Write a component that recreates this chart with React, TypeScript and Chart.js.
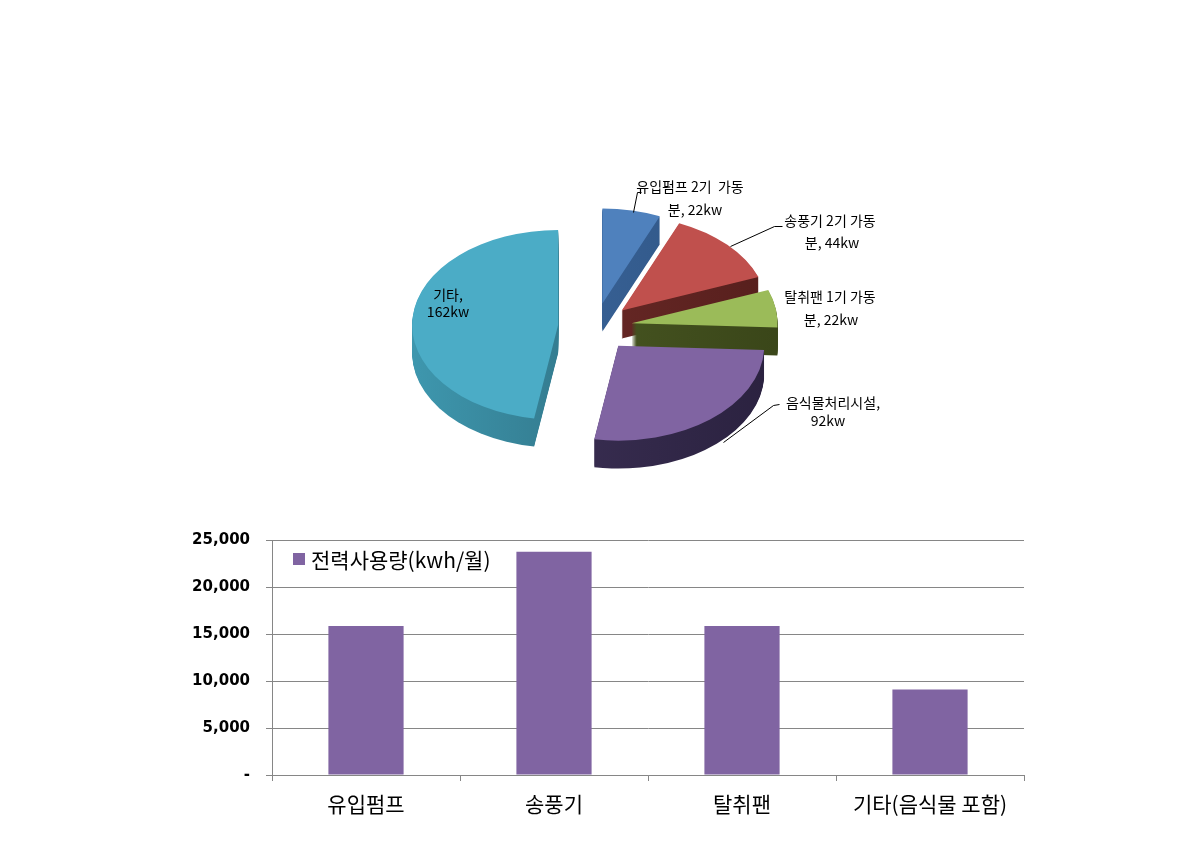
import React, { useEffect, useRef } from 'react';
import { Chart, registerables } from 'chart.js';

Chart.register(...registerables);

// ---------- data ----------
const pieCategories = ['유입펌프 2기 가동분', '송풍기 2기 가동분', '탈취팬 1기 가동분', '음식물처리시설', '기타'];
const pieValues = [22, 44, 22, 92, 162];
const pieLabelPrefixes = ['유입펌프 2기  가동', '송풍기 2기 가동', '탈취팬 1기 가동', '음식물처리시설,', '기타,'];

const barCategories = ['유입펌프', '송풍기', '탈취팬', '기타(음식물 포함)'];
const barValues = [15840, 23760, 15840, 9100];
const barSeriesName = '전력사용량(kwh/월)';
const yTicks = [0, 5000, 10000, 15000, 20000, 25000];

// ---------- styles ----------
const TOP_COLORS = ['#4f81bd', '#c0504d', '#9bbb59', '#8064a2', '#4bacc6'];
const SIDE_COLORS = [
  ['#3d6aa0', '#2f5484'],
  ['#702d2a', '#571f1d'],
  ['#4d5c25', '#3a4619'],
  ['#3e3258', '#2b2240'],
  ['#3e97ae', '#2a6374'],
];
const SQUASH = 0.65;
const DEPTH = 28;
const EXPLODE = 37;
const FONT_KR = '"Noto Sans CJK KR", "Noto Sans", sans-serif';

// label layout relative to pie centre: [line1 pos, line2 pos, leader polyline]
const LABEL_LAYOUT: { l1: [number, number]; l2: [number, number]; line?: [number, number][] }[] = [
  { l1: [95, -140], l2: [100, -117], line: [[46, -135], [42, -135], [38, -115]] },
  { l1: [235, -106], l2: [237, -84], line: [[187, -101], [179, -101], [135, -81]] },
  { l1: [235, -30], l2: [236, -7] },
  { l1: [238, 76], l2: [233, 94], line: [[184, 77], [178, 78], [128, 115]] },
  { l1: [-147, -32], l2: [-147, -15] },
];

const pie3dPlugin = {
  id: 'pie3d',
  beforeDatasetsDraw(chart: any) {
    const ctx: CanvasRenderingContext2D = chart.ctx;
    const arcs = chart.getDatasetMeta(0).data as any[];
    if (!arcs.length) return;
    const cx = arcs[0].x;
    const cy = arcs[0].y;
    const mid = (a: any) => (a.startAngle + a.endAngle) / 2;
    const order = arcs.map((_, i) => i).sort((i, j) => Math.sin(mid(arcs[i])) - Math.sin(mid(arcs[j])));
    const squash = () => {
      ctx.translate(cx, cy);
      ctx.scale(1, SQUASH);
      ctx.translate(-cx, -cy);
    };
    for (const i of order) {
      const a = arcs[i];
      const m = mid(a);
      const dx = Math.cos(m) * EXPLODE;
      const dy = Math.sin(m) * EXPLODE;
      const ax = a.x + dx;
      const ay = a.y + dy;
      const [c1, c2] = SIDE_COLORS[i % SIDE_COLORS.length];
      const grad = ctx.createLinearGradient(ax - a.outerRadius, 0, ax + a.outerRadius, 0);
      grad.addColorStop(0, c1);
      grad.addColorStop(1, c2);
      for (let d = DEPTH; d >= 1; d--) {
        ctx.save();
        ctx.translate(0, d);
        squash();
        ctx.beginPath();
        ctx.moveTo(ax, ay);
        ctx.arc(ax, ay, a.outerRadius, a.startAngle, a.endAngle);
        ctx.closePath();
        ctx.fillStyle = grad;
        ctx.fill();
        ctx.restore();
      }
      ctx.save();
      squash();
      ctx.translate(dx, dy);
      a.draw(ctx);
      ctx.restore();
    }
    return false;
  },
};

const pieLabelPlugin = {
  id: 'pieLabels',
  afterDraw(chart: any) {
    const ctx: CanvasRenderingContext2D = chart.ctx;
    const arcs = chart.getDatasetMeta(0).data as any[];
    if (!arcs.length) return;
    const cx = arcs[0].x;
    const cy = arcs[0].y;
    ctx.save();
    ctx.font = `14px ${FONT_KR}`;
    ctx.fillStyle = '#000';
    ctx.textAlign = 'center';
    ctx.textBaseline = 'middle';
    ctx.strokeStyle = '#000';
    ctx.lineWidth = 1;
    pieValues.forEach((v, i) => {
      const lay = LABEL_LAYOUT[i];
      const line2 = i < 3 ? `분, ${v}kw` : `${v}kw`;
      ctx.fillText(pieLabelPrefixes[i], cx + lay.l1[0], cy + lay.l1[1]);
      ctx.fillText(line2, cx + lay.l2[0], cy + lay.l2[1]);
      if (lay.line) {
        ctx.beginPath();
        lay.line.forEach(([px, py], k) => {
          if (k === 0) ctx.moveTo(cx + px + 0.5, cy + py + 0.5);
          else ctx.lineTo(cx + px + 0.5, cy + py + 0.5);
        });
        ctx.stroke();
      }
    });
    ctx.restore();
  },
};

const barLegendPlugin = {
  id: 'innerLegend',
  afterDraw(chart: any) {
    const ctx: CanvasRenderingContext2D = chart.ctx;
    const area = chart.chartArea;
    const ds = chart.data.datasets[0];
    ctx.save();
    ctx.fillStyle = ds.backgroundColor as string;
    ctx.fillRect(area.left + 21, area.top + 13, 12, 12);
    ctx.fillStyle = '#000';
    ctx.font = `21px ${FONT_KR}`;
    ctx.textBaseline = 'middle';
    ctx.textAlign = 'left';
    ctx.fillText(ds.label, area.left + 39, area.top + 20);
    ctx.restore();
  },
};

export default function App() {
  const pieRef = useRef<HTMLCanvasElement>(null);
  const barRef = useRef<HTMLCanvasElement>(null);

  useEffect(() => {
    const pie = new Chart(pieRef.current as HTMLCanvasElement, {
      type: 'pie',
      data: {
        labels: pieCategories,
        datasets: [
          {
            data: pieValues,
            backgroundColor: TOP_COLORS,
            borderWidth: 0,
            clip: false as any,
          } as any,
        ],
      },
      options: {
        responsive: false,
        animation: false,
        events: [],
        radius: 146,
        layout: { padding: 0 },
        plugins: { legend: { display: false }, tooltip: { enabled: false } },
      } as any,
      plugins: [pie3dPlugin, pieLabelPlugin],
    });

    const bar = new Chart(barRef.current as HTMLCanvasElement, {
      type: 'bar',
      data: {
        labels: barCategories,
        datasets: [
          {
            label: barSeriesName,
            data: barValues,
            backgroundColor: '#8064a2',
            borderWidth: 0,
            barPercentage: 0.4,
            categoryPercentage: 1.0,
          },
        ],
      },
      options: {
        responsive: false,
        animation: false,
        events: [],
        layout: { padding: { top: 6, right: 16, left: 0, bottom: 0 } },
        plugins: { legend: { display: false }, tooltip: { enabled: false } },
        scales: {
          x: {
            grid: { drawOnChartArea: false, drawTicks: true, tickLength: 6, color: '#868686', offset: true },
            border: { color: '#868686' },
            ticks: { font: { family: FONT_KR, size: 21 }, color: '#000', padding: 10, maxRotation: 0 },
            afterFit: (s: any) => {
              s.height = 60;
            },
          },
          y: {
            min: 0,
            max: 25000,
            afterBuildTicks: (s: any) => {
              s.ticks = yTicks.map((v) => ({ value: v }));
            },
            ticks: {
              callback: (v: any) => (Number(v) === 0 ? '-' : Number(v).toLocaleString('en-US')),
              font: { family: '"DejaVu Sans", sans-serif', size: 15, weight: 'bold' },
              color: '#000',
              padding: 16,
            },
            grid: { color: '#868686', tickLength: 6 },
            border: { color: '#868686' },
            afterFit: (s: any) => {
              s.width = 102;
            },
          },
        },
      } as any,
      plugins: [barLegendPlugin],
    });

    return () => {
      pie.destroy();
      bar.destroy();
    };
  }, []);

  return (
    <div style={{ position: 'absolute', left: 0, top: 0, width: 1190, height: 852, background: '#fff', overflow: 'hidden' }}>
      <canvas
        ref={barRef}
        width={870}
        height={320}
        style={{ position: 'absolute', left: 170, top: 515, width: 870, height: 320 }}
      />
      <canvas
        ref={pieRef}
        width={640}
        height={380}
        style={{ position: 'absolute', left: 275, top: 137, width: 640, height: 380 }}
      />
    </div>
  );
}
